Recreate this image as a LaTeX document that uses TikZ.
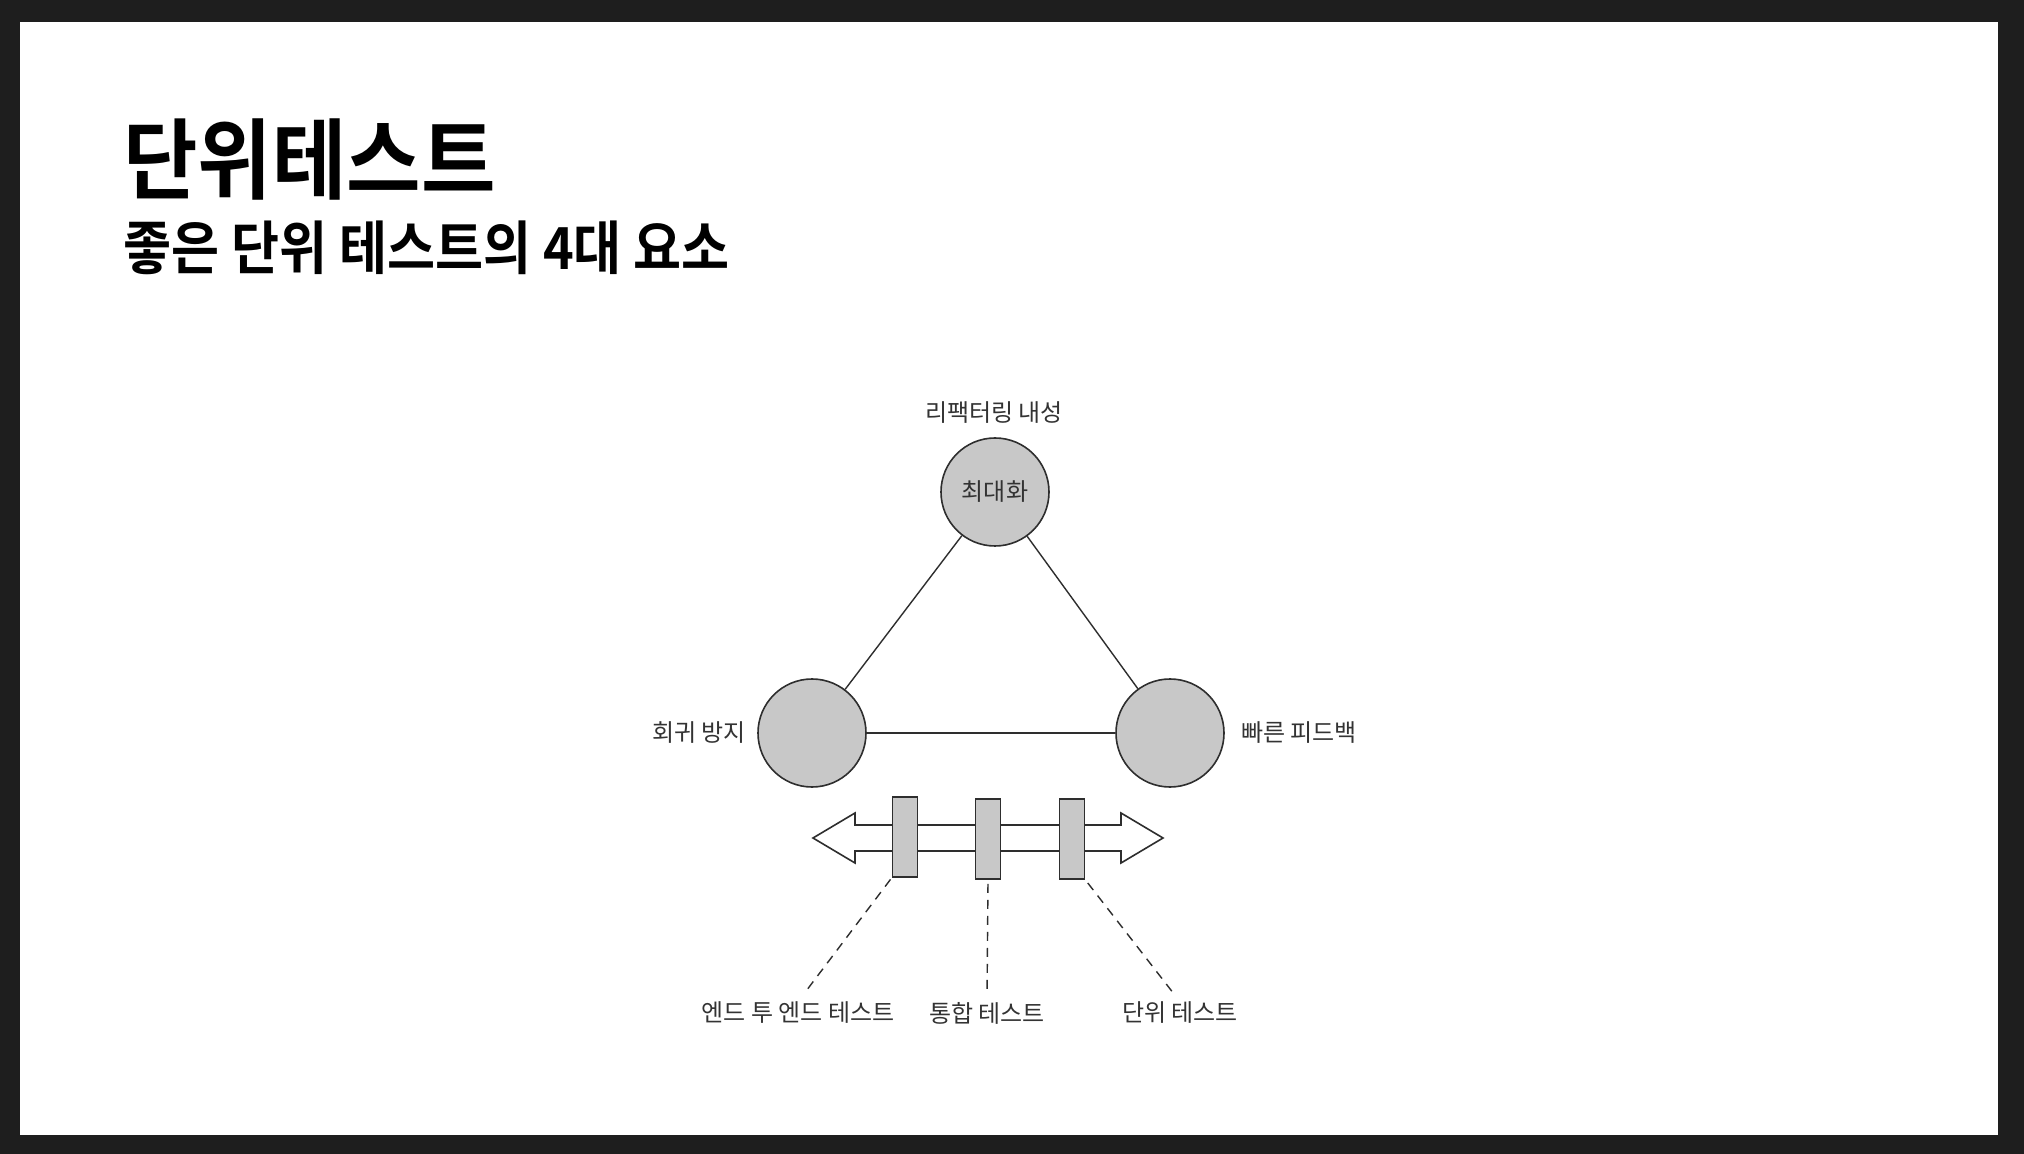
\documentclass[tikz,border=0pt]{standalone}
\usepackage{fontspec}
\setmainfont{Noto Sans CJK KR}[BoldFont={Noto Sans CJK KR Bold}]
\definecolor{frame}{HTML}{1E1E1E}
\definecolor{ink}{HTML}{333333}
\definecolor{disc}{HTML}{C8C8C8}
\definecolor{edge}{HTML}{2E2E2E}
\begin{document}
\begin{tikzpicture}[x=0.5pt,y=-0.5pt,
  lbl/.style={inner sep=0pt,text=ink,font=\fontsize{12pt}{14pt}\selectfont},
  disk/.style={circle,draw=edge,line width=0.8pt,fill=disc,minimum size=54pt,inner sep=0pt},
  tri/.style={draw=edge,line width=0.7pt},
  bar/.style={draw=edge,line width=0.8pt,fill=disc,minimum width=12.5pt,minimum height=40pt,inner sep=0pt},
  lead/.style={draw=edge,line width=0.7pt,dash pattern=on 4.5pt off 3.5pt}]
\useasboundingbox (0,0) rectangle (2024,1154);
\fill[frame] (0,0) rectangle (2024,1154);
\fill[white] (20,22) rectangle (1998,1135);
% titles
\node[anchor=west,inner sep=0pt] (title) at (123,160)
  {\scalebox{0.92}[1]{\fontsize{44pt}{48pt}\selectfont\bfseries 단위테스트}};
\node[anchor=west,inner sep=0pt] (sub) at (123,248)
  {\scalebox{0.9}[1]{\fontsize{29pt}{32pt}\selectfont\bfseries 좋은 단위 테스트의 4대 요소}};
% circles
\node[disk] (top) at (995,492) {\fontsize{12pt}{14pt}\selectfont\color{ink}최대화};
\node[disk] (left) at (812,733) {};
\node[disk] (right) at (1170,733) {};
\node[lbl] (ltop) at (994,413) {리팩터링 내성};
\node[lbl] (lleft) at (699,733) {회귀 방지};
\node[lbl] (lright) at (1299,733) {빠른 피드백};
\draw[tri] (top) -- (left);
\draw[tri] (top) -- (right);
\draw[tri] (left) -- (right);
% double arrow
\draw[draw=edge,line width=0.8pt,fill=white,line join=miter]
  (813,838) -- (855,813) -- (855,825) -- (1121,825) -- (1121,813) -- (1163,838)
  -- (1121,863) -- (1121,851) -- (855,851) -- (855,863) -- cycle;
\node[bar] (r1) at (905,837) {};
\node[bar] (r2) at (988,839) {};
\node[bar] (r3) at (1072,839) {};
% bottom labels
\node[lbl] (l1) at (798,1013) {엔드 투 엔드 테스트};
\node[lbl] (l2) at (987,1013) {통합 테스트};
\node[lbl] (l3) at (1180,1013) {단위 테스트};
\draw[lead,shorten <=1pt,shorten >=5pt] (r1.south west) -- (l1.north);
\draw[lead,shorten <=2pt,shorten >=5pt] (r2.south) -- (l2.north);
\draw[lead,shorten <=2pt,shorten >=5pt] (r3.south east) -- (l3.north);
\end{tikzpicture}
\end{document}
